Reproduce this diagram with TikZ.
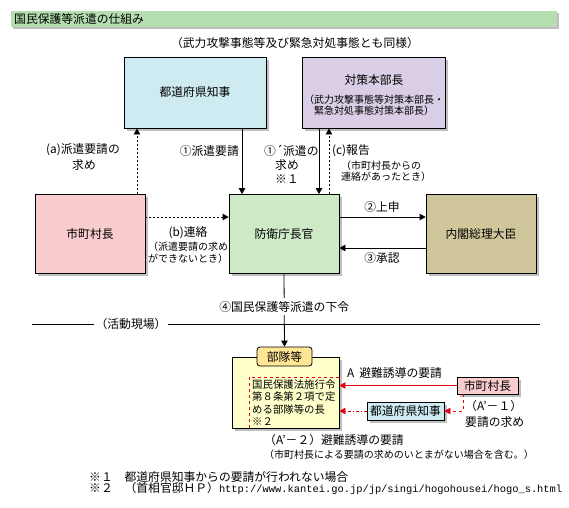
\documentclass[tikz,border=0pt]{standalone}
\usepackage{fontspec}
\setmainfont{Noto Sans CJK JP}
\newfontfamily\urlfont{Liberation Mono}
\usetikzlibrary{arrows.meta,shadows}
\definecolor{titlegreen}{HTML}{B5DEB0}
\definecolor{prefcol}{HTML}{CDEBF0}
\definecolor{hqcol}{HTML}{DACEE6}
\definecolor{municol}{HTML}{F9CCCE}
\definecolor{defcol}{HTML}{CDE9C6}
\definecolor{pmcol}{HTML}{CFC79B}
\definecolor{tagcol}{HTML}{FFE696}
\definecolor{unitcol}{HTML}{FFFFCC}
\definecolor{redline}{HTML}{E60012}
\begin{document}
\begin{tikzpicture}[x=1pt,y=-1pt,
  every node/.style={font=\fontsize{11.8}{16}\selectfont, inner sep=0pt},
  note/.style={font=\fontsize{10}{11.5}\selectfont},
  box/.style={draw, line width=0.8pt, drop shadow={shadow xshift=2.5pt,shadow yshift=-2.5pt,fill=black!25,opacity=1}},
  bigbox/.style={box, minimum width=110pt, minimum height=79pt},
  arr/.style={-{Triangle[length=6pt,width=6.5pt]}, line width=0.8pt},
  dotline/.style={dash pattern=on 2pt off 2pt},
  redarr/.style={arr, draw=redline, -{Triangle[length=6pt,width=6.5pt,fill=redline]}}]

\fill[white] (0,0) rectangle (569,507);
\useasboundingbox (0,0) rectangle (569,507);

% title
\node[fill=titlegreen, minimum width=546pt, minimum height=16pt, anchor=north west,
  drop shadow={shadow xshift=2pt,shadow yshift=-2pt,fill=black!25,opacity=1}] (titlebar) at (11,11) {};
\node[anchor=west] (title) at (14,19) {国民保護等派遣の仕組み};
\node (sub) at (295,43) {（武力攻撃事態等及び緊急対処事態とも同様）};

% upper boxes
\node[box, fill=prefcol, minimum width=142pt, minimum height=71pt] (pref) at (195,92.5) {都道府県知事};
\node[box, fill=hqcol, minimum width=143pt, minimum height=71pt] (hq) at (374,92.5) {};
\node (hqname) at (374,80) {対策本部長};
\node[note, align=center] (hqnote) at (374,105) {（武力攻撃事態等対策本部長・\\緊急対処事態対策本部長）};

% middle boxes
\node[bigbox, fill=municol] (muni) at (90,234) {市町村長};
\node[bigbox, fill=defcol] (dmin) at (284,234) {防衛庁長官};
\node[bigbox, fill=pmcol] (pm) at (481,234) {内閣総理大臣};

\coordinate (xa) at (137,0);
\coordinate (x1) at (242,0);
\coordinate (x1p) at (319,0);
\coordinate (xc) at (329,0);
\coordinate (yb) at (0,217);
\coordinate (y3) at (0,248);

\draw[arr, dotline] (muni.north -| xa) -- (pref.south -| xa);
\draw[arr] (pref.south -| x1) -- (dmin.north -| x1);
\draw[arr] (hq.south -| x1p) -- (dmin.north -| x1p);
\draw[arr, dotline] (dmin.north -| xc) -- (hq.south -| xc);
\draw[arr, dotline] (muni.east |- yb) -- (dmin.west |- yb);
\draw[arr] (dmin.east |- yb) -- (pm.west |- yb);
\draw[arr] (pm.west |- y3) -- (dmin.east |- y3);

\node[align=left, anchor=west] (la) at (46,157.5) {(a)派遣要請の\\\hspace*{26pt}求め};
\node[anchor=east] (l1) at (239,151) {①派遣要請};
\node[align=left, anchor=west] (l1p) at (264,164.5) {①´派遣の\\[-2pt]\hspace*{11pt}求め\\[-2pt]\hspace*{11pt}※１};
\node[anchor=west] (lc) at (332,151) {(c)報告};
\node[note, align=left, anchor=west] (lcnote) at (341,171) {（市町村長からの\\連絡があったとき）};
\node (lb) at (188,233) {(b)連絡};
\node[note, align=center] (lbnote) at (188,252.5) {（派遣要請の求め\\ができないとき）};
\node (l2) at (382,207) {②上申};
\node (l3) at (382,258) {③承認};

% activity site
\draw[line width=0.8pt] (32,324) -- (540,324);
\node[fill=white, inner xsep=2pt, inner ysep=1pt] (site) at (131,324) {（活動現場）};

% units
\node[box, fill=unitcol, minimum width=107pt, minimum height=71pt] (unit) at (285.5,392.5) {};
\node[draw, line width=0.8pt, fill=tagcol, rounded corners=3pt, minimum width=55pt, minimum height=19pt] (tag) at (284.5,356.5) {部隊等};
\draw[redline, dashed, line width=0.8pt] (249,428) -- (249,377) -- (339,377);
\node[anchor=west, align=left, font=\fontsize{10.4}{12.3}\selectfont] (unitnote) at (252,402.5) {国民保護法施行令\\第８条第２項で定\\める部隊等の長\\※２};

\draw[arr] (dmin.south) -- node[pos=0.45, fill=white, inner ysep=3pt] (l4) {④国民保護等派遣の下令} (tag.north);

\node[box, fill=municol, minimum width=61pt, minimum height=17pt] (muni2) at (487.5,385.5) {市町村長};
\node[box, fill=prefcol, minimum width=77pt, minimum height=18pt] (pref2) at (405.5,411) {都道府県知事};
\coordinate (xr) at (463,0);
\draw[redarr] (muni2.west) -- (unit.east |- muni2.west);
\draw[redarr, dash dot] (pref2.west) -- (unit.east |- pref2.west);
\draw[redarr, dashed] (muni2.south -| xr) |- (pref2.east);

\node[anchor=west] (lA) at (347,373) {A\hspace{5pt}避難誘導の要請};
\node[anchor=west, align=left] (lA1) at (465,414) {（A'－１）\\要請の求め};
\node[anchor=west] (lA2) at (264,440) {（A'－２）避難誘導の要請};
\node[note, anchor=west] (lA2note) at (264,455) {（市町村長による要請の求めのいとまがない場合を含む。）};

% footnotes
\node[anchor=west] (fn1) at (89,477) {※１　都道府県知事からの要請が行われない場合};
\node[anchor=west] (fn2) at (89,489) {※２　（首相官邸ＨＰ）{\urlfont\fontsize{10.4}{12}\selectfont http://www.kantei.go.jp/jp/singi/hogohousei/hogo\_s.html}};

\end{tikzpicture}
\end{document}
